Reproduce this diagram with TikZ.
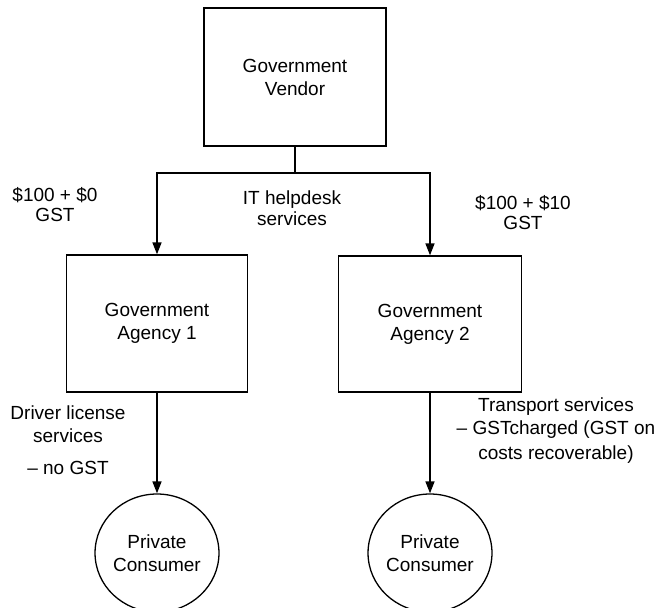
\documentclass[tikz,border=0pt]{standalone}
\usepackage{fontspec}
\setmainfont{Liberation Sans}
\usetikzlibrary{arrows.meta,shapes.geometric}

\begin{document}
\begin{tikzpicture}[x=1pt,y=-1pt,
  every node/.style={font=\fontsize{19}{23}\selectfont},
  box/.style={draw,line width=1.3pt,rectangle,align=center,inner sep=0pt},
  consumer/.style={draw,line width=1.3pt,ellipse,align=center,inner sep=0pt,
    minimum width=113pt,minimum height=118pt},
  flow/.style={line width=1.6pt,-{Triangle[length=12pt,width=9pt]}},
  link/.style={line width=1.6pt},
  lbl/.style={align=center,inner sep=0pt}]
  \useasboundingbox (0,0) rectangle (671,607);
  \clip (0,0) rectangle (671,607);

  % organisations
  \node[box,minimum width=182pt,minimum height=138pt] (vendor) at (295,77)
    {Government\\Vendor};
  \node[box,minimum width=181pt,minimum height=137pt] (ag1) at (157,323.5)
    {Government\\Agency 1};
  \node[box,minimum width=183pt,minimum height=136pt] (ag2) at (430,324)
    {Government\\Agency 2};

  % end customers
  \node[consumer] (pc1) at (157,553) {Private\\Consumer};
  \node[consumer] (pc2) at (430,553) {Private\\Consumer};

  % supply from the vendor
  \coordinate (split) at (295,173);
  \draw[link] (vendor.south) -- (split);
  \draw[flow] (split) -| (ag1.north);
  \draw[flow] (split) -| (ag2.north);

  % supply to consumers
  \draw[flow] (ag1.south) -- (pc1.north);
  \draw[flow] (ag2.south) -- (pc2.north);

  % labels
  \node[lbl,font=\fontsize{19}{20}\selectfont] (p1) at (55,205) {\$100 + \$0\\GST};
  \node[lbl,font=\fontsize{19}{21}\selectfont] (it) at (292,208) {IT helpdesk\\services};
  \node[lbl,font=\fontsize{19}{20}\selectfont] (p2) at (523,213) {\$100 + \$10\\GST};
  \node[lbl] (d1) at (68,440) {Driver license\\services\\[9pt]\textendash\ no GST};
  \node[lbl] (t2) at (556,431) {Transport services\\\textendash\ GSTcharged (GST on\\[2pt]costs recoverable)};
\end{tikzpicture}
\end{document}
